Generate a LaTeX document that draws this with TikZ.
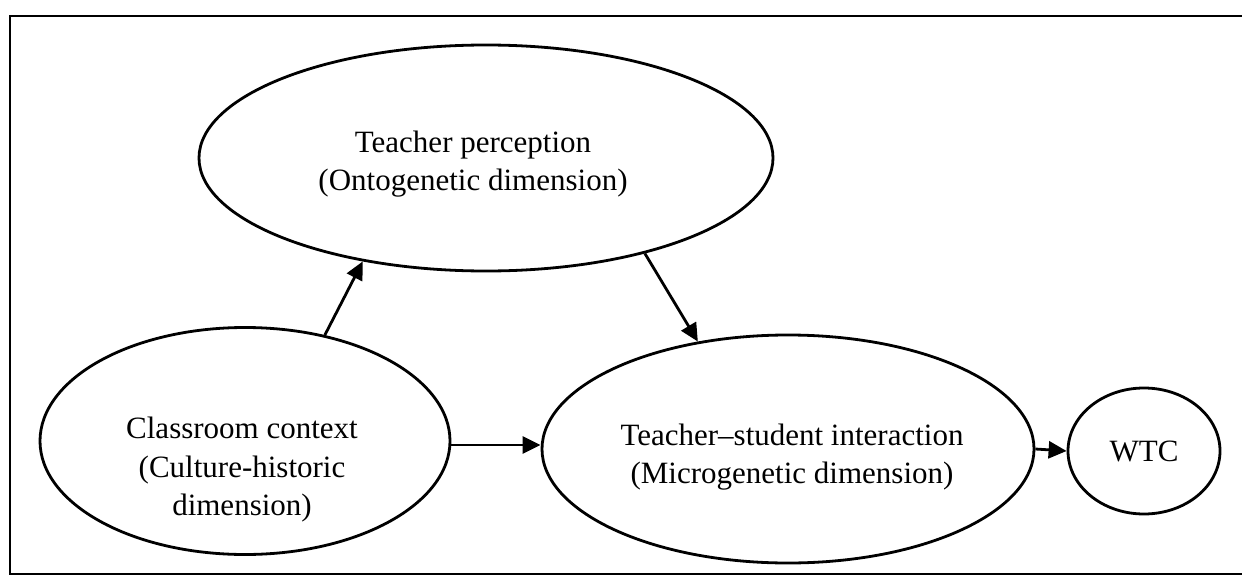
\documentclass[tikz,border=0pt]{standalone}
\usepackage{fontspec}
\setmainfont{Liberation Serif}
\usetikzlibrary{shapes.geometric,arrows.meta}
\begin{document}
\begin{tikzpicture}[x=1pt,y=-1pt,
  oval/.style={draw, ellipse, line width=2.8pt, inner sep=0pt},
  lbl/.style={align=center, font=\fontsize{31}{38.5}\selectfont, inner sep=0pt},
  arr/.style={-{Triangle[length=18pt,width=17pt]}, line width=2.8pt},
  frame/.style={line width=2.8pt}]
\useasboundingbox (0,0) rectangle (1242,578);
\draw[frame] (1242,16) -- (10,16) -- (10,574) -- (1242,574);
\node[oval, minimum width=574pt, minimum height=226pt] (tp) at (486,158) {};
\node[oval, minimum width=410pt, minimum height=227pt] (cc) at (245,441) {};
\node[oval, minimum width=492pt, minimum height=228pt] (ts) at (788,449) {};
\node[oval, minimum width=152pt, minimum height=126pt, font=\fontsize{31}{37.5}\selectfont] (wtc) at (1144,451) {WTC};
\node[lbl] (tpt) at (473,164) {Teacher perception\\(Ontogenetic dimension)};
\node[lbl] (cct) at (242,470) {Classroom context\\(Culture-historic\\dimension)};
\node[lbl] (tst) at (792,457) {Teacher–student interaction\\(Microgenetic dimension)};
\draw[arr] (cc.53) -- (tp.220.6);
\draw[arr] (tp.329) -- (ts.130);
\draw[arr] ([yshift=-4pt]cc.east) -- ([yshift=-4pt]cc.east -| ts.west);
\draw[arr] (ts.east) -- (wtc.west);
\end{tikzpicture}
\end{document}
